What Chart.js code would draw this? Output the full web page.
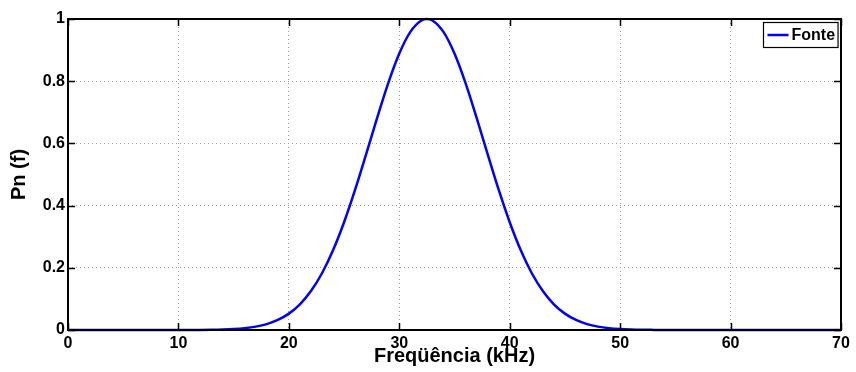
<!DOCTYPE html>
<html>
<head>
<meta charset="utf-8">
<script src="https://cdn.jsdelivr.net/npm/chart.js@4.4.1/dist/chart.umd.min.js"></script>
<style>
  html, body { margin: 0; padding: 0; background: #fff; }
  #wrap { width: 856px; height: 372px; }
</style>
</head>
<body>
<div id="wrap"><canvas id="pnChart" width="856" height="372"></canvas></div>
<script>
//Values (frequency in kHz, normalised power)
const freqKHz = [0, 10, 12, 13, 14, 15, 16, 17, 18, 19, 20, 21, 22, 23, 24, 25, 26, 27, 28, 29, 30, 31, 32, 32.5,
  33, 34, 35, 36, 37, 38, 39, 40, 41, 42, 43, 44, 45, 46, 47, 48, 49, 50, 51, 52, 53, 55, 70];
const pnValues = [0, 0, 0.0004, 0.0008, 0.0016, 0.0031, 0.0059, 0.0108, 0.019, 0.0322, 0.0526, 0.0827, 0.1252,
  0.1825, 0.2562, 0.3464, 0.451, 0.5654, 0.6827, 0.7938, 0.8889, 0.9585, 0.9953, 1.0,
  0.9953, 0.9585, 0.8889, 0.7938, 0.6827, 0.5654, 0.451, 0.3464, 0.2562, 0.1825, 0.1252, 0.0827, 0.0526,
  0.0322, 0.019, 0.0108, 0.0059, 0.0031, 0.0016, 0.0008, 0.0004, 0, 0];
const xTicks = [0, 10, 20, 30, 40, 50, 60, 70];
const yTicks = [0, 0.2, 0.4, 0.6, 0.8, 1];
const seriesLabel = 'Fonte';

const fontFamily = '"Liberation Sans", Arial, sans-serif';
const tickFont = { family: fontFamily, size: 16, weight: 'bold' };
const titleFont = { family: fontFamily, size: 20, weight: 'bold' };

//Box around plot, inward tick marks and a legend in the top-right corner (MATLAB look)
const frameBox = {
  id: 'frameBox',
  afterDraw(chart) {
    const { ctx, chartArea: a, scales } = chart;
    ctx.save();
    ctx.strokeStyle = '#000';
    ctx.lineWidth = 1.5;
    ctx.beginPath();
    xTicks.forEach((v) => {
      const px = Math.round(scales.x.getPixelForValue(v)) + 0.5;
      ctx.moveTo(px, a.bottom); ctx.lineTo(px, a.bottom - 7);
      ctx.moveTo(px, a.top); ctx.lineTo(px, a.top + 7);
    });
    yTicks.forEach((v) => {
      const py = Math.round(scales.y.getPixelForValue(v)) + 0.5;
      ctx.moveTo(a.left, py); ctx.lineTo(a.left + 7, py);
      ctx.moveTo(a.right, py); ctx.lineTo(a.right - 7, py);
    });
    ctx.stroke();
    ctx.lineWidth = 2;
    ctx.strokeRect(a.left, a.top, a.right - a.left, a.bottom - a.top);

    //Legend box
    const ds = chart.data.datasets[0];
    ctx.font = `bold 16px ${fontFamily}`;
    const textW = ctx.measureText(ds.label).width;
    const boxW = 4 + 21 + 3 + textW + 3;
    const boxH = 25;
    const bx = Math.round(a.right - 3 - boxW) + 0.5;
    const by = Math.round(a.top + 3) + 0.5;
    ctx.fillStyle = '#fff';
    ctx.fillRect(bx, by, boxW, boxH);
    ctx.lineWidth = 1.2;
    ctx.strokeStyle = '#000';
    ctx.strokeRect(bx, by, boxW, boxH);
    ctx.strokeStyle = ds.borderColor;
    ctx.lineWidth = 2.5;
    ctx.beginPath();
    ctx.moveTo(bx + 4, by + boxH / 2);
    ctx.lineTo(bx + 25, by + boxH / 2);
    ctx.stroke();
    ctx.fillStyle = '#000';
    ctx.textBaseline = 'middle';
    ctx.textAlign = 'left';
    ctx.fillText(ds.label, bx + 28, by + boxH / 2 + 1);
    ctx.restore();
  },
};

function createChart() {
  const ctx = document.getElementById('pnChart').getContext('2d');
  return new Chart(ctx, {
    type: 'line',
    data: {
      datasets: [{
        label: seriesLabel,
        data: freqKHz.map((f, i) => ({ x: f, y: pnValues[i] })),
        borderColor: '#0000ff',
        backgroundColor: '#0000ff',
        borderWidth: 2.5,
        pointRadius: 0,
        tension: 0.4,
        cubicInterpolationMode: 'monotone',
        fill: false,
        clip: 4,
      }],
    },
    options: {
      responsive: false,
      animation: false,
      layout: { padding: { top: 19, right: 15, left: 7, bottom: 4 } },
      plugins: {
        tooltip: { enabled: false },
        legend: { display: false },
      },
      scales: {
        x: {
          type: 'linear',
          min: 0,
          max: 70,
          afterBuildTicks: (s) => { s.ticks = xTicks.map((v) => ({ value: v })); },
          afterFit: (s) => { s.height = 38; },
          grid: { color: '#9a9a9a', lineWidth: 1, drawTicks: false },
          border: { display: false, dash: [1, 3] },
          ticks: { color: '#000', font: tickFont, padding: 4, maxRotation: 0 },
          title: { display: true, text: 'Freqüência (kHz)', color: '#000', font: titleFont, padding: { top: -3, bottom: 0 } },
        },
        y: {
          min: 0,
          max: 1,
          afterBuildTicks: (s) => { s.ticks = yTicks.map((v) => ({ value: v })); },
          afterFit: (s) => { s.width = 61; },
          grid: { color: '#9a9a9a', lineWidth: 1, drawTicks: false },
          border: { display: false, dash: [1, 3] },
          ticks: { color: '#000', font: tickFont, padding: 3, callback: (v) => `${v}` },
          title: { display: true, text: 'Pn (f)', color: '#000', font: titleFont, padding: { top: 0, bottom: 1 } },
        },
      },
    },
    plugins: [frameBox],
  });
}

document.addEventListener('DOMContentLoaded', createChart);
</script>
</body>
</html>
